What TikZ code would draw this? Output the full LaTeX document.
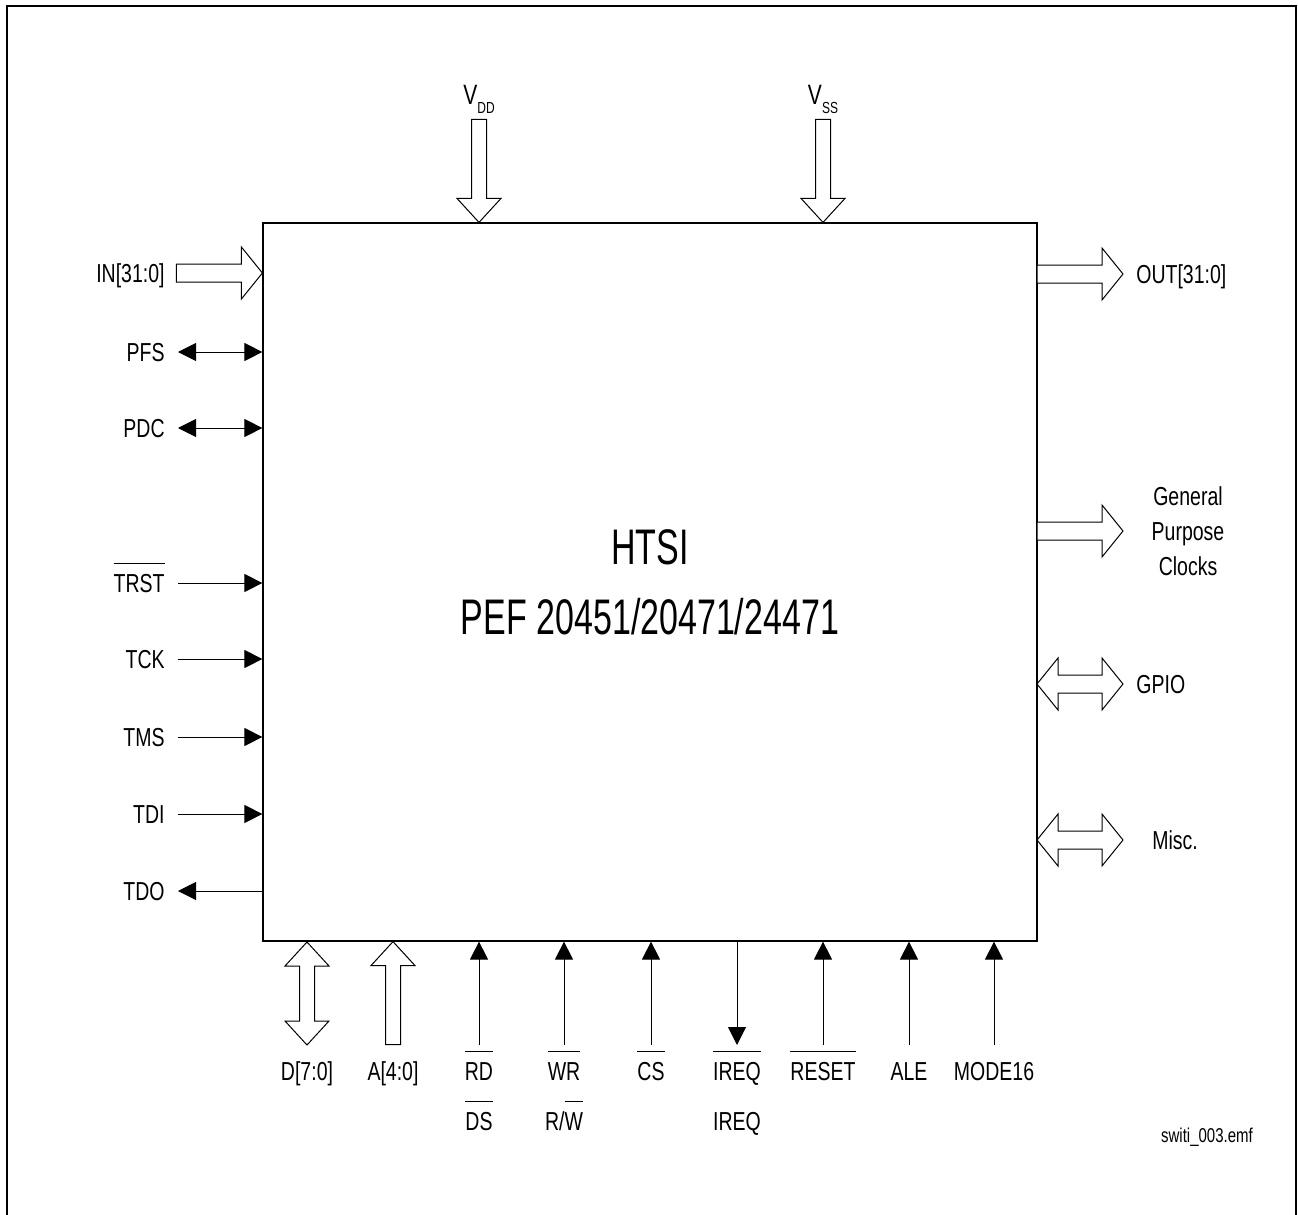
\documentclass[tikz,border=0pt]{standalone}
\usepackage{fontspec}
\setmainfont[FakeStretch=0.75]{Liberation Sans}
\newfontfamily\titlefont[FakeStretch=0.68]{Liberation Sans}
\usetikzlibrary{arrows.meta}
\newcommand{\ovl}[1]{\leavevmode\vbox{\hrule height 0.5pt \kern 5pt \hbox{#1}}}
\tikzset{
  lbl/.style={font=\fontsize{13}{15}\selectfont, inner xsep=6.5pt, inner ysep=1pt, text height=9.3pt, text depth=0pt},
  sig/.style={line width=0.5pt},
  >={Triangle[length=9pt,width=9pt]},
  pics/hbus/.style={code={\draw[line width=0.5pt,fill=white] (0,0) -- (-21,-26) -- (-21,-9) -- (-#1,-9) -- (-#1,9) -- (-21,9) -- (-21,26) -- cycle;}},
  pics/hbibus/.style={code={\draw[line width=0.5pt,fill=white] (0,0) -- (-21,-26) -- (-21,-9) -- ({-#1+21},-9) -- ({-#1+21},-26) -- (-#1,0) -- ({-#1+21},26) -- ({-#1+21},9) -- (-21,9) -- (-21,26) -- cycle;}},
  pics/vbus/.style={code={\draw[line width=0.5pt,fill=white] (0,0) -- (-22,-24) -- (-7.5,-24) -- (-7.5,-#1) -- (7.5,-#1) -- (7.5,-24) -- (22,-24) -- cycle;}},
  pics/vbibus/.style={code={\draw[line width=0.5pt,fill=white] (0,0) -- (-22,-24) -- (-7.5,-24) -- (-7.5,{-#1+24}) -- (-22,{-#1+24}) -- (0,-#1) -- (22,{-#1+24}) -- (7.5,{-#1+24}) -- (7.5,-24) -- (22,-24) -- cycle;}},
}
\begin{document}
\begin{tikzpicture}[x=0.5pt,y=-0.5pt]
        \useasboundingbox (0,0) rectangle (1298,1215);
        \draw[line width=1.2pt] (7,1240) -- (7,6) -- (1296,6) -- (1296,1240);
        % the chip
        \node[draw,line width=0.6pt,minimum width=387pt,minimum height=359pt,inner sep=0pt,align=center,
              font=\titlefont\fontsize{25}{35}\selectfont] (htsi) at (650,582) {HTSI\\PEF 20451/20471/24471};
        % supply
        \node[anchor=south,inner sep=1pt,font=\fontsize{14}{16}\selectfont] (vdd) at (479,116) {V\raisebox{-4.5pt}{\fontsize{8}{9}\selectfont DD}};
        \node[anchor=south,inner sep=1pt,font=\fontsize{14}{16}\selectfont] (vss) at (823,116) {V\raisebox{-4.5pt}{\fontsize{8}{9}\selectfont SS}};
        \pic at (vdd |- htsi.north) {vbus=103};
        \pic at (vss |- htsi.north) {vbus=103};
        % left side
        \node[lbl,anchor=east] (in) at (178,273) {IN[31:0]};
        \node[lbl,anchor=east] (pfs) at (178,352) {PFS};
        \node[lbl,anchor=east] (pdc) at (178,428) {PDC};
        \node[lbl,anchor=east] (trst) at (178,583) {\ovl{TRST}};
        \node[lbl,anchor=east] (tck) at (178,659) {TCK};
        \node[lbl,anchor=east] (tms) at (178,737) {TMS};
        \node[lbl,anchor=east] (tdi) at (178,814) {TDI};
        \node[lbl,anchor=east] (tdo) at (178,891) {TDO};
        \pic at (htsi.west |- in) {hbus=86};
        \draw[sig,<->] (pfs) -- (pfs -| htsi.west);
        \draw[sig,<->] (pdc) -- (pdc -| htsi.west);
        \draw[sig,->] (trst) -- (trst -| htsi.west);
        \draw[sig,->] (tck) -- (tck -| htsi.west);
        \draw[sig,->] (tms) -- (tms -| htsi.west);
        \draw[sig,->] (tdi) -- (tdi -| htsi.west);
        \draw[sig,->] (tdo -| htsi.west) -- (tdo);
        % right side
        \node[lbl,anchor=west] (out) at (1123,274) {OUT[31:0]};
        \node[font=\fontsize{13}{17.5}\selectfont,align=center] (gpc) at (1188,531) {General\\Purpose\\Clocks};
        \node[lbl,anchor=west] (gpio) at (1123,684) {GPIO};
        \node[lbl] (misc) at (1175,840) {Misc.};
        \pic at (out.west) {hbus=86};
        \pic at (out.west |- gpc) {hbus=86};
        \pic at (gpio.west) {hbibus=86};
        \pic at (gpio.west |- misc) {hbibus=86};
        % bottom side
        \coordinate (pinrow) at (0,1045);
        \node[lbl] (d) at (307,1071) {D[7:0]};
        \node[lbl] (a) at (393,1071) {A[4:0]};
        \node[lbl] (rd) at (479,1071) {\ovl{RD}};
        \node[lbl] (wr) at (564,1071) {\ovl{WR}};
        \node[lbl] (cs) at (651,1071) {\ovl{CS}};
        \node[lbl] (ireq) at (737,1071) {\ovl{IREQ}};
        \node[lbl] (reset) at (823,1071) {\ovl{RESET}};
        \node[lbl] (ale) at (909,1071) {ALE};
        \node[lbl] (mode) at (994,1071) {MODE16};
        \node[lbl] (ds) at (479,1121) {\ovl{DS}};
        \node[lbl] (rw) at (564,1121) {R/\ovl{W}};
        \node[lbl] (ireqhi) at (737,1121) {IREQ};
        \pic at (d |- pinrow) {vbibus=103};
        \pic[yscale=-1] at (a |- htsi.south) {vbus=103};
        \draw[sig,->] (rd |- pinrow) -- (rd |- htsi.south);
        \draw[sig,->] (wr |- pinrow) -- (wr |- htsi.south);
        \draw[sig,->] (cs |- pinrow) -- (cs |- htsi.south);
        \draw[sig,->] (ireq |- htsi.south) -- (ireq |- pinrow);
        \draw[sig,->] (reset |- pinrow) -- (reset |- htsi.south);
        \draw[sig,->] (ale |- pinrow) -- (ale |- htsi.south);
        \draw[sig,->] (mode |- pinrow) -- (mode |- htsi.south);
        \node[font=\fontsize{10}{12}\selectfont,anchor=base] (file) at (1207,1142) {switi\_003.emf};
    \end{tikzpicture}
\end{document}
